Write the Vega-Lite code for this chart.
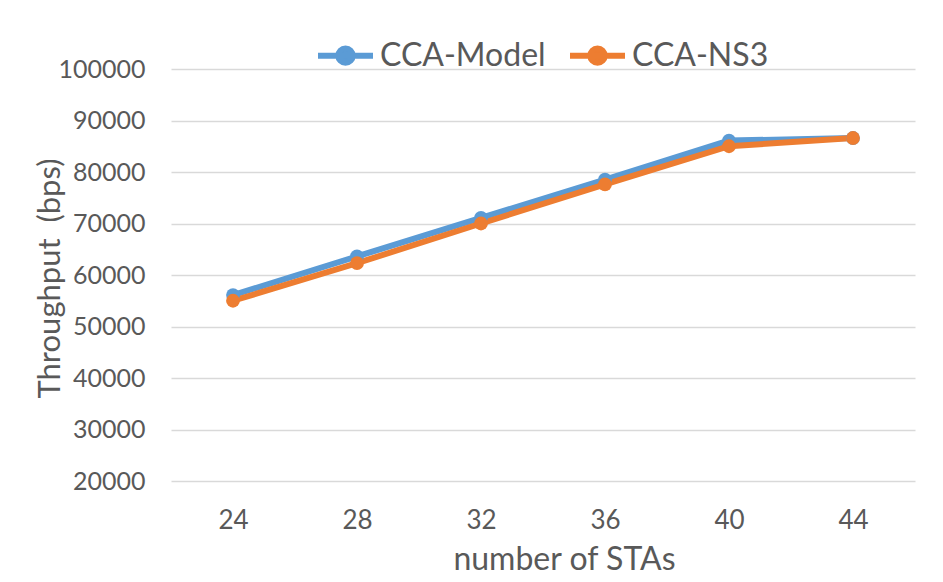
{
  "$schema": "https://vega.github.io/schema/vega-lite/v6.json",
  "width": 744,
  "height": 412,
  "autosize": "none",
  "padding": {"left": 171, "top": 69, "right": 28, "bottom": 101},
  "background": "white",
  "config": {
    "view": {"stroke": null},
    "font": "Lato",
    "axis": {"labelColor": "#595959", "titleColor": "#595959", "labelFont": "Lato", "titleFont": "Lato"},
    "legend": {"labelColor": "#595959", "labelFont": "Lato"}
  },
  "data": {
    "values": [
      {"stas": 24, "series": "CCA-Model", "throughput": 56100},
      {"stas": 28, "series": "CCA-Model", "throughput": 63600},
      {"stas": 32, "series": "CCA-Model", "throughput": 71100},
      {"stas": 36, "series": "CCA-Model", "throughput": 78500},
      {"stas": 40, "series": "CCA-Model", "throughput": 86100},
      {"stas": 44, "series": "CCA-Model", "throughput": 86600},
      {"stas": 24, "series": "CCA-NS3", "throughput": 55000},
      {"stas": 28, "series": "CCA-NS3", "throughput": 62300},
      {"stas": 32, "series": "CCA-NS3", "throughput": 70000},
      {"stas": 36, "series": "CCA-NS3", "throughput": 77600},
      {"stas": 40, "series": "CCA-NS3", "throughput": 85000},
      {"stas": 44, "series": "CCA-NS3", "throughput": 86600}
    ]
  },
  "encoding": {
    "x": {
      "field": "stas",
      "type": "ordinal",
      "scale": {"type": "point", "padding": 0.5},
      "axis": {
        "title": "number of STAs",
        "labelAngle": 0,
        "labelFontSize": 26,
        "labelPadding": 26,
        "ticks": false,
        "domain": false,
        "grid": false,
        "titleFontSize": 32,
        "titleFontWeight": "normal",
        "titleX": 393,
        "titleY": 88,
        "titleAlign": "center",
        "titleBaseline": "alphabetic"
      }
    },
    "y": {
      "field": "throughput",
      "type": "quantitative",
      "scale": {"domain": [20000, 100000], "nice": false, "zero": false},
      "axis": {
        "title": "Throughput \u00a0(bps)",
        "values": [20000, 30000, 40000, 50000, 60000, 70000, 80000, 90000, 100000],
        "format": "d",
        "labelFontSize": 25,
        "labelPadding": 26,
        "ticks": false,
        "domain": false,
        "grid": true,
        "gridColor": "#D9D9D9",
        "gridWidth": 1.5,
        "titleFontSize": 31,
        "titleFontWeight": "normal",
        "titleAngle": -90,
        "titleX": -121,
        "titleY": 209,
        "titleAlign": "center",
        "titleBaseline": "middle"
      }
    },
    "color": {
      "field": "series",
      "type": "nominal",
      "scale": {"domain": ["CCA-Model", "CCA-NS3"], "range": ["#5B9BD5", "#ED7D31"]},
      "legend": {
        "title": null,
        "orient": "none",
        "direction": "horizontal",
        "legendX": 144,
        "legendY": -44,
        "padding": 0,
        "labelFontSize": 32,
        "labelLimit": 400,
        "labelOffset": 4,
        "columnPadding": 12,
        "symbolType": "M -1 0 L 1 0 M -0.26 0 A 0.26 0.26 0 1 1 0.26 0 A 0.26 0.26 0 1 1 -0.26 0 Z",
        "symbolSize": 3025,
        "symbolStrokeWidth": 6,
        "symbolOpacity": 1
      }
    }
  },
  "layer": [
    {"mark": {"type": "line", "strokeWidth": 6}},
    {"mark": {"type": "point", "filled": true, "size": 190, "opacity": 1}}
  ]
}
